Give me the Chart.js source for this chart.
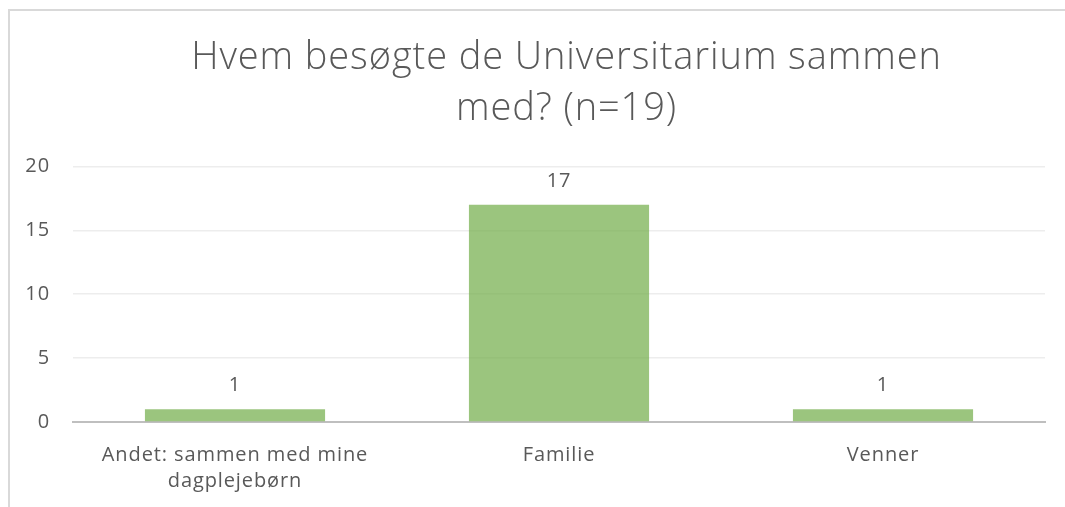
<!DOCTYPE html>
<html lang="da">
<head>
  <meta charset="UTF-8" />
  <title>Hvem besøgte de Universitarium sammen med?</title>
  <script src="https://cdn.jsdelivr.net/npm/chart.js"></script>
  <style>
    html, body { margin: 0; padding: 0; background: #fff; overflow: hidden; }
    #frame { position: absolute; left: 8px; top: 9px; width: 1200px; height: 600px; border: 2px solid #d9d9d9; }
    #wrap { position: absolute; left: 0; top: 0; width: 1065px; height: 507px; }
  </style>
</head>
<body>
  <div id="frame"></div>
  <div id="wrap"><canvas id="chart" width="1065" height="507"></canvas></div>

<script>
const titleLines = ['Hvem besøgte de Universitarium sammen', 'med? (n=19)'];
const categories = [['Andet: sammen med mine', 'dagplejebørn'], 'Familie', 'Venner'];
const counts = [1, 17, 1];
const yTicks = [0, 5, 10, 15, 20];

const textGray = '#595959';
const fontFamily = "'Open Sans', 'Noto Sans', sans-serif";

// a bit of letter spacing like the office chart text
const spacing = {
  id: 'spacing',
  beforeLayout(chart) { chart.ctx.letterSpacing = '0.9px'; },
  beforeDraw(chart) { chart.ctx.letterSpacing = '0.9px'; },
  afterLayout(chart) {
    // title sits a little right of the canvas centre in the original
    const t = chart.titleBlock;
    if (t) { t.left = 68; t.right = 1065; }
  }
};

// simple value labels above each bar
const valueLabels = {
  id: 'valueLabels',
  afterDatasetsDraw(chart) {
    const ctx = chart.ctx;
    const meta = chart.getDatasetMeta(0);
    ctx.save();
    ctx.fillStyle = textGray;
    ctx.font = '20px ' + fontFamily;
    ctx.textAlign = 'center';
    ctx.textBaseline = 'alphabetic';
    meta.data.forEach((bar, i) => {
      ctx.fillText(String(counts[i]), bar.x, bar.y - 18);
    });
    ctx.restore();
  }
};

new Chart(document.getElementById('chart').getContext('2d'), {
  type: 'bar',
  data: {
    labels: categories,
    datasets: [{
      data: counts,
      backgroundColor: 'rgba(112,173,71,0.7)',
      borderWidth: 0,
      barPercentage: 0.556,
      categoryPercentage: 1
    }]
  },
  options: {
    responsive: false,
    animation: false,
    layout: { padding: { left: 0, right: 20, top: 0, bottom: 0 } },
    plugins: {
      legend: { display: false },
      tooltip: { enabled: false },
      title: {
        display: true,
        text: titleLines,
        color: textGray,
        font: { family: fontFamily, size: 38, weight: 300, lineHeight: 1.36 },
        padding: { top: 32, bottom: 31 }
      }
    },
    scales: {
      x: {
        grid: { display: false },
        border: { display: true, color: '#bfbfbf', width: 2 },
        ticks: { color: textGray, font: { family: fontFamily, size: 20, lineHeight: 1.3 }, padding: 12, maxRotation: 0, autoSkip: false },
        afterFit(scale) { scale.height = 85; }
      },
      y: {
        min: 0,
        max: 20,
        afterBuildTicks(scale) { scale.ticks = yTicks.map(v => ({ value: v })); },
        grid: { color: '#ededed', lineWidth: 1.5, drawTicks: false },
        border: { display: false },
        ticks: { color: textGray, font: { family: fontFamily, size: 20 }, padding: 23 },
        afterFit(scale) { scale.width = 73; }
      }
    }
  },
  plugins: [spacing, valueLabels]
});
</script>
</body>
</html>
